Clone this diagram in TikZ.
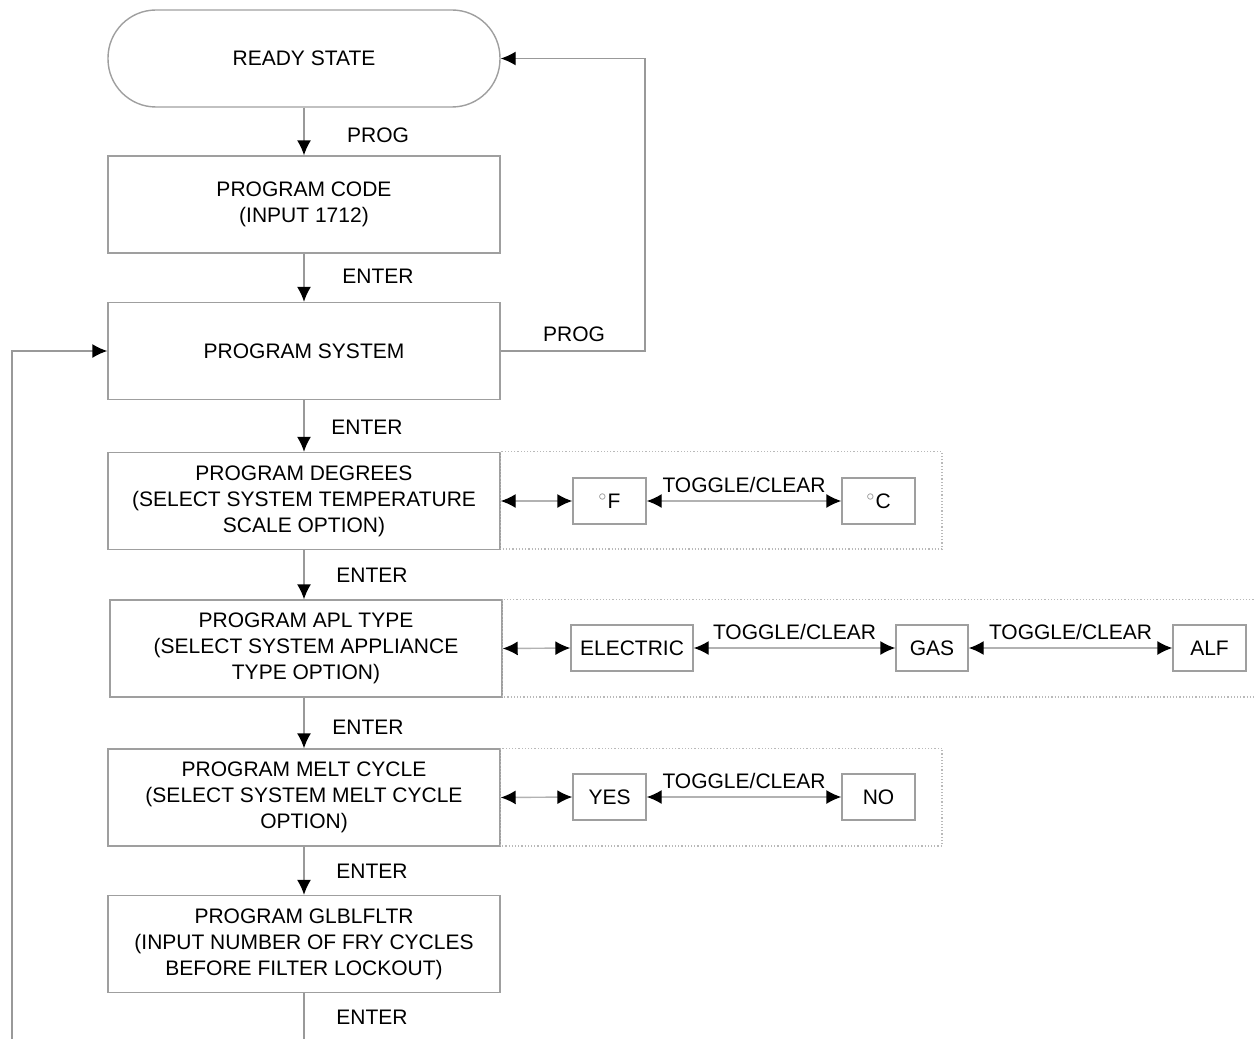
\documentclass[tikz,border=0pt]{standalone}
\usepackage{fontspec}
\setmainfont{Liberation Sans}
\usetikzlibrary{arrows.meta}

\tikzset{
  box/.style={draw=gray!75, line width=0.7pt, align=center, minimum width=196pt, minimum height=48.5pt, inner sep=0pt},
  optbox/.style={draw=gray!75, line width=0.7pt, minimum height=23pt, inner sep=2pt},
  lbl/.style={inner sep=1pt, text=black},
  region/.style={draw=gray!55, densely dotted, line width=0.6pt},
  flow/.style={draw=gray!80, line width=0.7pt, -{Latex[color=black, length=7.5pt, width=7pt]}},
  dbl/.style={draw=gray!60, line width=0.7pt, {Latex[color=black, length=7.5pt, width=7pt]}-{Latex[color=black, length=7.5pt, width=7pt]}}
}

\begin{document}
\begin{tikzpicture}[x=0.5pt, y=-0.5pt, font=\fontsize{10.5}{13}\selectfont, text=black]
\useasboundingbox (0,0) rectangle (1256,1038);

% main column
\node[box, rounded corners=24pt] (ready) at (304,58.5){READY STATE};
\node[box] (prog_code) at (304,204.5){PROGRAM CODE\\(INPUT 1712)};
\node[box] (prog_sys) at (304,351){PROGRAM SYSTEM};
\node[box] (prog_deg) at (304,501){PROGRAM DEGREES\\(SELECT SYSTEM TEMPERATURE\\SCALE OPTION)};
\node[box] (prog_apl) at (306,648.5){PROGRAM APL TYPE\\(SELECT SYSTEM APPLIANCE\\TYPE OPTION)};
\node[box] (prog_melt) at (304,797.5){PROGRAM MELT CYCLE\\(SELECT SYSTEM MELT CYCLE\\OPTION)};
\node[box] (prog_filt) at (304,944){PROGRAM GLBLFLTR\\(INPUT NUMBER OF FRY CYCLES\\BEFORE FILTER LOCKOUT)};

\draw[flow] (prog_code.north |- ready.south) -- (prog_code.north);
\node (prog_l) at (378,135){PROG};
\draw[flow] (prog_code.south) -- (prog_sys.north);
\node (enter_a) at (378,276){ENTER};
\draw[flow] (prog_sys.south) -- (prog_deg.north);
\node (enter_b) at (367,427){ENTER};
\draw[flow] (prog_deg.south) -- (prog_deg.south |- prog_apl.north);
\node (enter_c) at (372,575){ENTER};
\draw[flow] (prog_deg.south |- prog_apl.south) -- (prog_melt.north);
\node (enter_d) at (368,727){ENTER};
\draw[flow] (prog_melt.south) -- (prog_filt.north);
\node (enter_e) at (372,871){ENTER};

\coordinate (filt_out) at (304,1045);
\draw[draw=gray!80, line width=0.7pt] (prog_filt.south) -- (filt_out);
\node (enter_f) at (372,1017){ENTER};

% loops back
\coordinate (prog_turn) at (645,351);
\draw[flow] (prog_sys.east) -- (prog_turn) |- (ready.east);
\node (prog_back) at (574,334){PROG};

\coordinate (loop_in) at (12,1045);
\draw[flow] (loop_in) |- (prog_sys.west);

% degrees options
\draw[region] (prog_deg.north east) rectangle (942,549);
\node[optbox, minimum width=36.5pt] (deg_f) at (609.5,501){\textsuperscript{\textcolor{gray}{$\circ$}}F};
\node[optbox, minimum width=36.5pt] (deg_c) at (878.5,501){\textsuperscript{\textcolor{gray}{$\circ$}}C};
\draw[dbl] (prog_deg.east) -- (deg_f.west);
\draw[dbl] (deg_f.east) -- node[lbl, above=3pt] {TOGGLE/CLEAR} (deg_c.west);

% appliance options
\draw[region] (prog_apl.north east) rectangle (1262,697);
\node[optbox, minimum width=61pt] (apl_el) at (632,648){ELECTRIC};
\node[optbox, minimum width=36pt] (apl_gas) at (932,648){GAS};
\node[optbox, minimum width=36.5pt] (apl_alf) at (1209.5,648){ALF};
\draw[dbl] (prog_apl.east) -- (apl_el.west);
\draw[dbl] (apl_el.east) -- node[lbl, above=3pt] {TOGGLE/CLEAR} (apl_gas.west);
\draw[dbl] (apl_gas.east) -- node[lbl, above=3pt] {TOGGLE/CLEAR} (apl_alf.west);

% melt cycle options
\draw[region] (prog_melt.north east) rectangle (942,846);
\node[optbox, minimum width=36.5pt] (melt_yes) at (609.5,797){YES};
\node[optbox, minimum width=36.5pt] (melt_no) at (878.5,797){NO};
\draw[dbl] (prog_melt.east) -- (melt_yes.west);
\draw[dbl] (melt_yes.east) -- node[lbl, above=3pt] {TOGGLE/CLEAR} (melt_no.west);
\end{tikzpicture}
\end{document}
